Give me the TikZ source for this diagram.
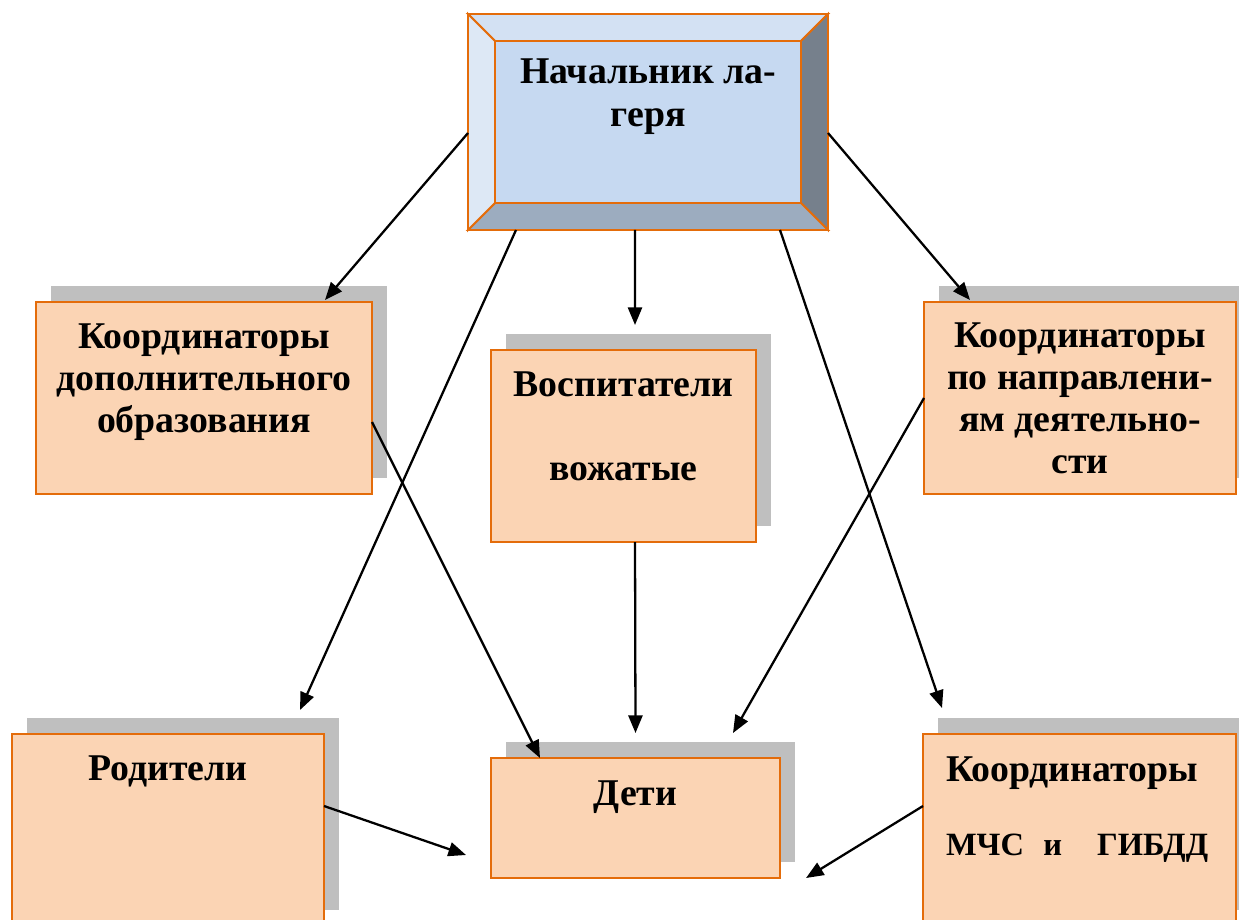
\documentclass[tikz,border=0pt]{standalone}
\usepackage{fontspec}
\setmainfont{Liberation Serif}
\usetikzlibrary{positioning,arrows.meta}

\definecolor{brd}{HTML}{E46C0A}
\definecolor{peach}{HTML}{FBD4B4}
\definecolor{shd}{HTML}{BFBFBF}
\definecolor{inner}{HTML}{C6D9F1}
\definecolor{bevtop}{HTML}{D3E1F3}
\definecolor{bevleft}{HTML}{DDE8F5}
\definecolor{bevright}{HTML}{76808C}
\definecolor{bevbot}{HTML}{9CACBF}

\begin{document}
\begin{tikzpicture} [every node/.style={inner sep=0pt,outer sep=0pt},
	box/.style={draw=brd,fill=peach,line width=1.1pt},
	shadowbox/.style={fill=shd},
	txt/.style={anchor=base,align=center,font=\bfseries\fontsize{21.5pt}{23.9pt}\selectfont},
	arr/.style={line width=1.3pt,-{Triangle[length=10pt,width=8pt]}}]

\useasboundingbox (0,0) rectangle (24.78,-18.4);

\newcommand{\kb}[5]{
	\node[shadowbox,minimum width=#4cm,minimum height=#5cm] at (#2+0.3,#3+0.32) {};
	\node[box,minimum width=#4cm,minimum height=#5cm] (#1) at (#2,#3) {};
}

% head of camp
\node[draw=brd,fill=inner,line width=1.1pt,minimum width=7.2cm,minimum height=4.32cm] (boss) at (12.96,-2.44) {};
\coordinate (inw) at ([shift={(0.54,-0.54)}]boss.north west);
\coordinate (ine) at ([shift={(-0.54,-0.54)}]boss.north east);
\coordinate (ise) at ([shift={(-0.54,0.54)}]boss.south east);
\coordinate (isw) at ([shift={(0.54,0.54)}]boss.south west);
\filldraw[fill=bevtop,draw=brd,line width=1.1pt] (boss.north west)--(boss.north east)--(ine)--(inw)--cycle;
\filldraw[fill=bevright,draw=brd,line width=1.1pt] (boss.north east)--(boss.south east)--(ise)--(ine)--cycle;
\filldraw[fill=bevbot,draw=brd,line width=1.1pt] (boss.south east)--(boss.south west)--(isw)--(ise)--cycle;
\filldraw[fill=bevleft,draw=brd,line width=1.1pt] (boss.south west)--(boss.north west)--(inw)--(isw)--cycle;
% text nodes sit on the baseline of their last line
\node[txt] (bosstxt) at ([yshift=-2.26cm]boss.north) {Начальник ла-\\[1.1pt]геря};

\foreach \n/\x/\y/\w/\h in {dop/4.08/-7.96/6.72/3.84,vosp/12.47/-8.92/5.30/3.84,napr/21.6/-7.96/6.24/3.84,
	rod/3.36/-16.6/6.24/3.84,deti/12.71/-16.36/5.78/2.4,mchs/21.59/-16.6/6.26/3.84}{
	\kb{\n}{\x}{\y}{\w}{\h}
}

\node[txt] (doptxt) at ([yshift=-2.6cm]dop.north) {Координаторы\\дополнительного\\образования};
\node[txt] (vosptxt) at ([yshift=-2.6cm]vosp.north) {Воспитатели\\[23.9pt]вожатые};
\node[txt] (naprtxt) at ([yshift=-3.42cm]napr.north) {Координаторы\\по направлени-\\ям деятельно-\\сти};
\node[txt] (rodtxt) at ([yshift=-0.92cm]rod.north) {Родители};
\node[txt] (detitxt) at ([yshift=-0.94cm]deti.north) {Дети};
\node[txt,anchor=base west,align=left] (mchstxt) at ([xshift=0.46cm,yshift=-2.42cm]mchs.north west)
	{Координаторы\\[18.2pt]{\fontsize{18.5pt}{20pt}\selectfont МЧС\hspace{11pt}и\hspace{20pt}ГИБДД}};

\draw[arr] ([yshift=-0.22cm]boss.west) -- ([xshift=2.42cm,yshift=0.04cm]dop.north);
\draw[arr] ([xshift=-2.64cm]boss.south) -- ([xshift=2.64cm,yshift=0.48cm]rod.north);
\draw[arr] ([xshift=-0.26cm]boss.south) -- ([xshift=0.23cm,yshift=0.5cm]vosp.north);
\draw[arr] ([xshift=2.64cm]boss.south) -- ([xshift=-2.75cm,yshift=0.52cm]mchs.north);
\draw[arr] ([yshift=-0.22cm]boss.east) -- ([xshift=-2.2cm,yshift=0.04cm]napr.north);
\draw[arr] ([yshift=-0.48cm]dop.east) -- ([xshift=-1.91cm]deti.north);
\draw[arr] ([xshift=0.23cm]vosp.south) -- ([yshift=0.5cm]deti.north);
\draw[arr] (napr.west) -- ([xshift=1.95cm,yshift=0.5cm]deti.north);
\draw[arr] ([yshift=0.48cm]rod.east) -- ([xshift=-0.5cm,yshift=-0.74cm]deti.west);
\draw[arr] ([yshift=0.48cm]mchs.west) -- ([xshift=0.52cm,yshift=-1.2cm]deti.east);

\end{tikzpicture}
\end{document}
